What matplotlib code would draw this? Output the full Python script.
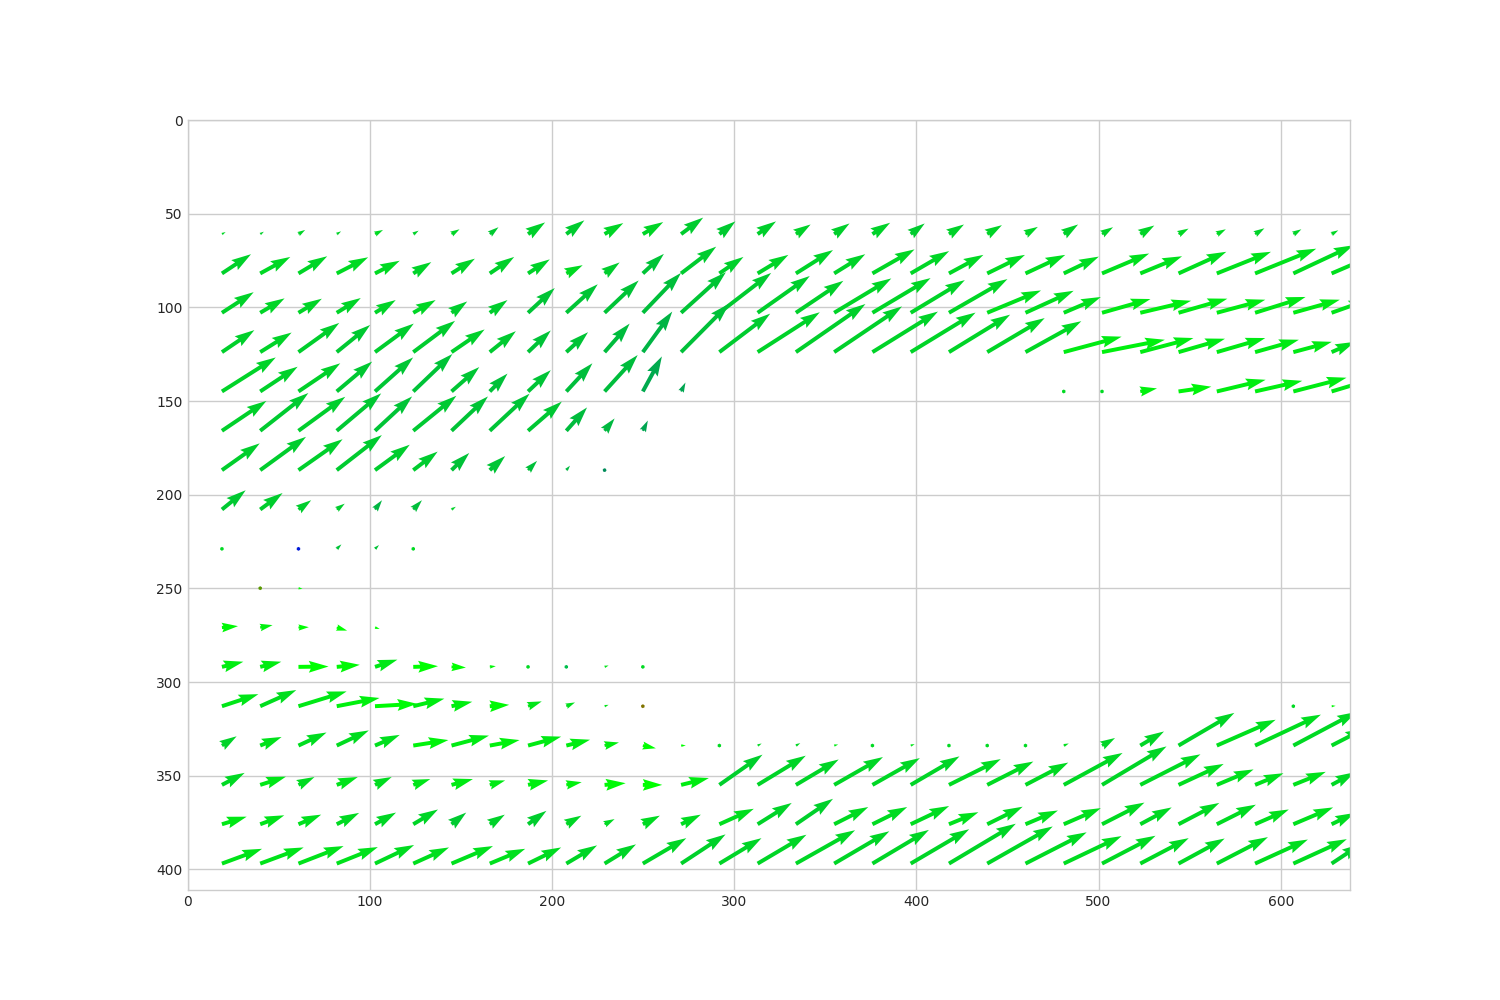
import numpy as np
import matplotlib
matplotlib.use("Agg")
import matplotlib.pyplot as plt

N = np.nan
cols = 18.9 + 21.0 * np.arange(30)
rows = 60.9 + 21.0 * np.arange(17)

U = [
 [11,11,20,13,24,16,24,26,51,54,56,61,66,48,55,44,46,53,42,45,44,37,43,33,42,30,27,28,24,20],
 [87,90,86,94,74,54,70,73,65,49,45,63,105,72,92,111,93,126,115,103,113,119,105,141,125,143,162,183,180,120],
 [95,73,70,72,62,67,47,53,80,94,102,114,134,155,156,142,171,174,162,175,161,144,111,145,152,146,145,151,139,110],
 [97,94,122,100,116,125,99,78,68,65,75,88,144,152,186,208,203,196,194,183,172,167,173,188,159,139,145,131,115,70],
 [161,112,125,106,114,117,83,53,68,78,99,57,13,N,N,N,N,N,N,N,N,N,1,1,50,98,146,141,159,120],
 [133,144,140,133,111,129,109,119,101,62,30,15]+[N]*18,
 [113,137,132,135,104,73,53,46,27,11,1]+[N]*19,
 [71,67,38,24,21,26,13]+[N]*23,
 [1,N,1,14,12,1]+[N]*24,
 [N,1,12]+[N]*27,
 [48,37,31,31,14]+[N]*25,
 [64,63,90,69,67,74,43,18,1,1,12,1]+[N]*18,
 [109,108,144,128,126,93,62,58,41,26,12,1]+[N]*16+[1,12],
 [44,64,84,96,74,105,112,89,99,71,43,39,14,1,12,13,12,1,12,1,1,1,15,39,71,167,176,197,190,100],
 [68,77,48,63,50,51,64,46,60,46,63,58,83,129,144,128,146,142,146,155,138,128,176,193,180,135,110,85,97,70],
 [74,72,68,67,63,74,44,45,55,45,30,51,59,103,102,111,102,104,115,88,106,97,111,127,94,122,117,101,119,70],
 [120,130,135,123,117,107,124,106,99,92,94,130,133,126,146,177,165,169,175,200,196,183,173,160,145,138,153,158,160,90],
]
# upward components (image up is positive here)
V = [
 [6,7,12,8,12,10,14,20,34,40,32,35,48,37,37,28,31,33,31,28,26,21,28,20,25,16,14,17,14,11],
 [56,48,50,47,37,33,43,48,41,24,32,57,78,48,54,68,56,70,65,54,54,54,49,58,50,63,63,72,82,50],
 [60,42,41,43,37,37,33,37,72,83,94,116,118,116,107,93,100,101,95,98,65,64,46,40,35,41,38,46,38,38],
 [64,57,85,79,83,91,66,61,63,58,83,118,141,112,116,140,133,118,115,109,99,90,45,36,41,39,41,36,30,30],
 [99,72,82,87,99,109,71,52,62,82,106,102,26,N,N,N,N,N,N,N,N,N,.5,.5,9,14,34,31,40,35],
 [87,110,99,109,100,102,100,108,85,68,36,30]+[N]*18,
 [78,97,90,102,74,54,50,41,27,13,1]+[N]*19,
 [56,48,27,17,27,27,8]+[N]*23,
 [.5,N,.5,13,11,.5]+[N]*24,
 [N,.5,-2]+[N]*27,
 [4,7,1,-9,-4]+[N]*25,
 [15,15,1,6,21,2,-2,2,.5,.5,4,.5]+[N]*18,
 [35,47,43,24,7,22,13,4,14,11,4,.5]+[N]*16+[.5,1],
 [27,25,38,44,31,16,29,16,26,17,9,-8,0,.5,6,7,3,.5,4,.5,.5,.5,6,22,41,95,75,90,98,50],
 [35,24,23,23,23,17,17,13,13,8,5,0,20,88,85,74,81,78,83,75,68,65,93,112,89,61,45,34,38,37],
 [22,26,28,33,34,43,34,28,39,25,15,25,28,45,62,74,50,50,53,35,51,40,47,63,49,62,57,43,49,33],
 [43,47,51,48,54,47,51,43,47,53,56,74,85,74,84,97,94,98,100,116,108,91,80,81,74,73,77,70,71,58],
]
xticks = [0, 100, 200, 300, 400, 500, 600]
yticks = [0, 50, 100, 150, 200, 250, 300, 350, 400]
special_colors = {(8, 2): (0.0, 0.1, 0.85), (9, 1): (0.35, 0.6, 0.0),
                  (12, 11): (0.5, 0.45, 0.0), (6, 10): (0.0, 0.55, 0.35),
                  (11, 9): (0.0, 0.75, 0.3)}

U = np.array(U, dtype=float)
V = np.array(V, dtype=float)
X, Y = np.meshgrid(cols, rows)


def arrow_color(u, v):
    if np.isnan(u):
        return (0, 0, 0, 1)
    a = max(np.degrees(np.arctan2(v, u)), 0.0)
    return (0.0, max(1 - 0.0055 * a, 0), min(0.005 * a, 1), 1)


colors = [special_colors.get((i, j), arrow_color(U[i, j], V[i, j]))
          for i in range(U.shape[0]) for j in range(U.shape[1])]

plt.rcParams.update({"font.family": "DejaVu Sans", "axes.edgecolor": "0.8",
                     "axes.linewidth": 1.0, "grid.color": "0.8",
                     "text.color": "0.15",
                     "xtick.color": "0.15", "ytick.color": "0.15"})
fig, ax = plt.subplots(figsize=(15, 10), dpi=100)
ax.grid(True, linewidth=1.0)
ax.set_axisbelow(True)
ax.quiver(X, Y, U, -V, color=colors, angles="xy", scale_units="xy", scale=5.45,
          width=0.0034)
ax.set_xlim(0, 638)
ax.set_ylim(411, 0)
ax.set_xticks(xticks)
ax.set_yticks(yticks)
ax.tick_params(length=0, labelsize=10)
fig.savefig("out.png", dpi=100)
